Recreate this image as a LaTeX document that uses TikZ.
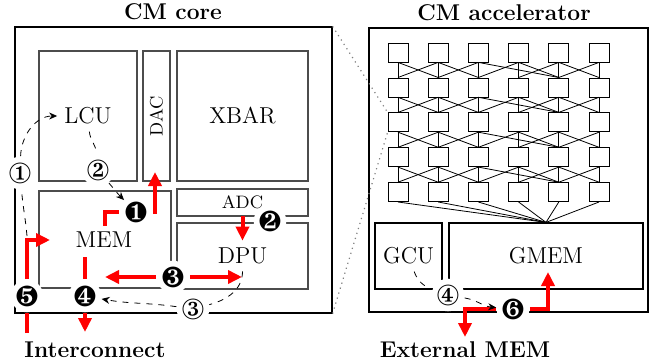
\documentclass[tikz,border=0pt]{standalone}
\usepackage{tikz}
\usetikzlibrary{arrows.meta}
\usepackage{pifont}

\begin{document}
\begin{tikzpicture}[x=0.5pt,y=-0.5pt,semithick,>={Stealth[length=4pt,width=3.5pt]}]
  \tikzstyle{frame}=[draw,inner sep=0pt]
  \tikzstyle{blk}=[draw=black!70,inner sep=0pt]
  \tikzstyle{pe}=[draw,thin,inner sep=0pt,minimum width=10pt,minimum height=9.5pt]
  \tikzstyle{ttl}=[font=\fontsize{11.4}{13}\selectfont\bfseries]
  \tikzstyle{lbl}=[font=\fontsize{11.5}{13}\selectfont]
  \tikzstyle{sml}=[font=\fontsize{9}{10}\selectfont]
  \tikzstyle{wc}=[circle,fill=white,inner sep=0.3pt,font=\fontsize{14.5}{16}\selectfont]
  \tikzstyle{rd}=[draw=red,line width=2pt,-{Triangle[length=7pt,width=6.5pt]}]
  \tikzstyle{dsh}=[dashed,thin,->]
  \tikzstyle{wire}=[thin]

  \useasboundingbox (0,0) rectangle (654,364);

  \node[ttl] (coret) at (173,12) {CM core};
  \node[ttl] (acct)  at (504,13) {CM accelerator};
  \node[ttl] (icn)   at (95,350) {Interconnect};
  \node[ttl] (ext)   at (465,350) {External MEM};

  \node[frame,minimum width=158.5pt,minimum height=143pt] (core) at (173.5,170) {};
  \node[blk,minimum width=49pt,minimum height=65pt]       (lcubox)  at (88,116) {};
  \node[blk,minimum width=13.5pt,minimum height=65pt]     (dacbox)  at (156.5,116) {};
  \node[blk,minimum width=65.5pt,minimum height=65pt]     (xbarbox) at (242.5,116) {};
  \node[blk,minimum width=66pt,minimum height=48.5pt]     (membox)  at (105,239.5) {};
  \node[blk,minimum width=65.5pt,minimum height=13.5pt]   (adcbox)  at (242.5,202.5) {};
  \node[blk,minimum width=65.5pt,minimum height=33pt]     (dpubox)  at (242.5,256) {};

  \node[lbl] (lcu)  at (lcubox)  {LCU};
  \node[sml,rotate=90] (dac) at (dacbox) {DAC};
  \node[lbl] (xbar) at (xbarbox) {XBAR};
  \node[lbl] (mem)  at (104,240) {MEM};
  \node[sml] (adc)  at (adcbox)  {ADC};
  \node[lbl] (dpu)  at (dpubox)  {DPU};

  \node[frame,minimum width=139.5pt,minimum height=142pt] (acc) at (508.5,170) {};
  \node[frame,minimum width=33.5pt,minimum height=33pt] (gcubox)  at (408.5,256) {};
  \node[frame,minimum width=97pt,minimum height=33pt]   (gmembox) at (546,256) {};
  \node[lbl] (gcu)  at (gcubox)  {GCU};
  \node[lbl] (gmem) at (gmembox) {GMEM};

  \foreach \r in {1,...,5}
    \foreach \c in {0,...,5}
      \node[pe] (pe-\r-\c) at ({398+40.2*\c},{52.5+34.9*(\r-1)}) {};

  \foreach \r in {1,...,4}{
    \pgfmathtruncatemacro{\nx}{\r+1}
    \foreach \a/\b in {0/0,1/1,2/2,3/3,4/4,5/5,0/1,1/0,1/2,2/1,3/2,2/4,3/4,4/3,4/5,5/4}
      \draw[wire] (pe-\r-\a.south) -- (pe-\nx-\b.north);
  }
  \foreach \c in {0,...,5}
    \draw[wire] (pe-5-\c.south) -- (gmembox.north);

  \draw[dotted,gray] (core.north east) -- (pe-3-0.north west);
  \draw[dotted,gray] (core.south east) -- (pe-3-0.south west);

  \node[wc] (w1) at (20,173)  {\ding{172}};
  \node[wc] (w2) at (98,170)  {\ding{173}};
  \node[wc] (w3) at (193,309) {\ding{174}};
  \node[wc] (w4) at (448,295) {\ding{175}};
  \node[wc] (b1) at (136,212) {\ding{182}};
  \node[wc] (b2) at (270,221) {\ding{183}};
  \node[wc] (b3) at (173,277) {\ding{184}};
  \node[wc] (b4) at (85,296)  {\ding{185}};
  \node[wc] (b5) at (27,296)  {\ding{186}};
  \node[wc] (b6) at (513,309) {\ding{187}};

  \coordinate (s1) at (105,226);
  \coordinate (e1) at (155,172);
  \coordinate (e3a) at (105,277);
  \coordinate (e3b) at (242,277);
  \coordinate (s4) at (85,257);
  \coordinate (e4) at (85,332);
  \coordinate (s5) at (27,333);
  \coordinate (e5) at (50,240);
  \coordinate (e6a) at (465,337);
  \coordinate (e6b) at (548,272);
  \coordinate (q1) at (27,236);

  \draw[rd] (s1) |- (b1) -| (e1);
  \draw[rd] (adc) -- (dpu);
  \draw[rd] (b3) -- (e3a);
  \draw[rd] (b3) -- (e3b);
  \draw[rd] (s4) -- (b4) -- (e4);
  \draw[rd] (s5) -- (b5) |- (e5);
  \draw[rd] (b6) -| (e6a);
  \draw[rd] (b6) -| (e6b);

  \draw[dsh] (q1) to[out=95,in=-85] (w1) to[out=88,in=180] (lcu);
  \draw[dsh] (lcu) to[out=-85,in=95] (w2) to[out=-50,in=135] (b1);
  \draw[dsh] (dpu) to[out=-90,in=15] (w3) to[out=172,in=-10] (b4);
  \draw[dsh] (gcu) to[out=-70,in=160] (w4) to[out=-10,in=175] (b6);
\end{tikzpicture}
\end{document}
